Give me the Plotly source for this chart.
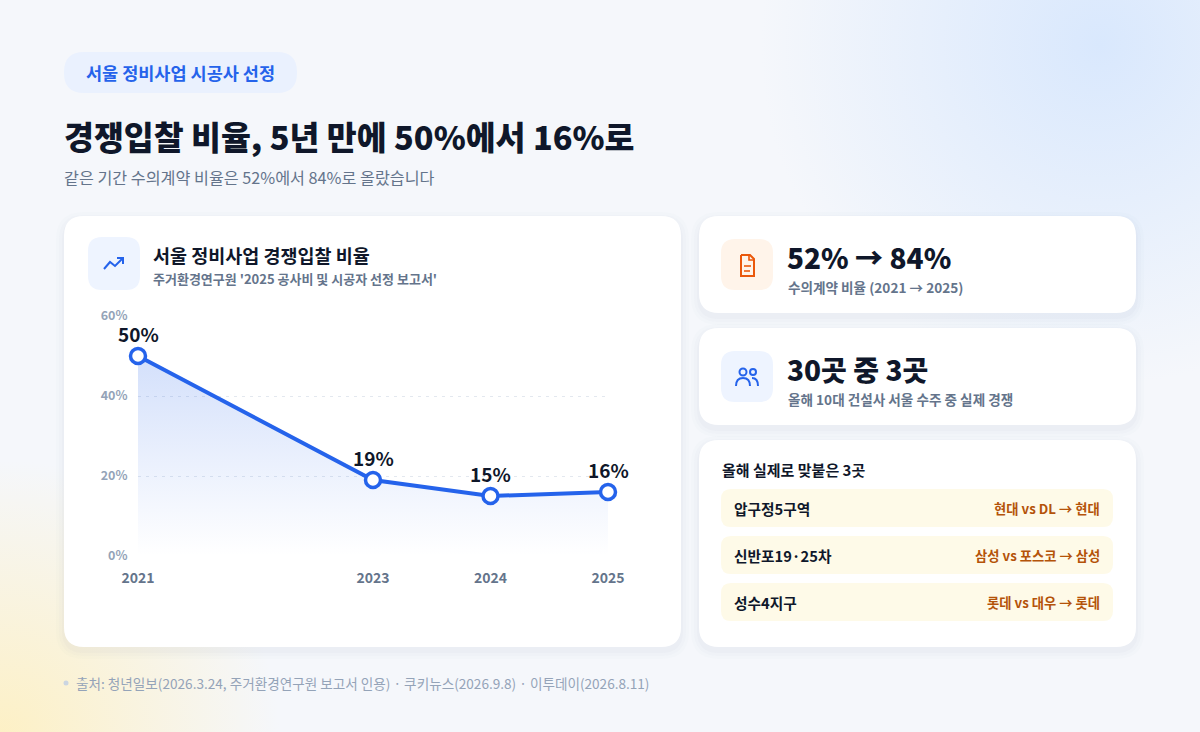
import base64

import plotly.graph_objects as go

W, H = 1200, 732
FONT = "Noto Sans CJK KR"

# data
years = [2021, 2023, 2024, 2025]
competitive_pct = [50, 19, 15, 16]
point_labels = ["50%", "19%", "15%", "16%"]
y_ticks = [0, 20, 40, 60]
y_tick_labels = ["0%", "20%", "40%", "60%"]

stat_values = ["52% → 84%", "30곳 중 3곳"]
stat_notes = ["수의계약 비율 (2021 → 2025)", "올해 10대 건설사 서울 수주 중 실제 경쟁"]
sites = ["압구정5구역", "신반포19·25차", "성수4지구"]
matchups = ["현대 vs DL → 현대", "삼성 vs 포스코 → 삼성", "롯데 vs 대우 → 롯데"]

BLUE = "#2563EB"
DARK = "#0F172A"
GRAY = "#64748B"
LIGHT = "#94A3B8"


def px(x):
    return x / W


def py(y):
    return 1 - y / H


def rrect(x0, y0, x1, y1, r):
    pts = [
        f"M {px(x0 + r)} {py(y0)}",
        f"L {px(x1 - r)} {py(y0)}",
        f"Q {px(x1)} {py(y0)} {px(x1)} {py(y0 + r)}",
        f"L {px(x1)} {py(y1 - r)}",
        f"Q {px(x1)} {py(y1)} {px(x1 - r)} {py(y1)}",
        f"L {px(x0 + r)} {py(y1)}",
        f"Q {px(x0)} {py(y1)} {px(x0)} {py(y1 - r)}",
        f"L {px(x0)} {py(y0 + r)}",
        f"Q {px(x0)} {py(y0)} {px(x0 + r)} {py(y0)}",
        "Z",
    ]
    return " ".join(pts)


def polyline(points):
    return " ".join(
        ("M" if i == 0 else "L") + f" {px(x)} {py(y)}" for i, (x, y) in enumerate(points)
    )


# soft background glows as an svg image (blue top right, yellow bottom left)
bg_svg = (
    f"<svg xmlns='http://www.w3.org/2000/svg' width='{W}' height='{H}'>"
    "<defs>"
    "<radialGradient id='b' cx='1100' cy='45' r='340' gradientUnits='userSpaceOnUse'>"
    "<stop offset='0' stop-color='#D9E8FD' stop-opacity='1'/>"
    "<stop offset='1' stop-color='#D9E8FD' stop-opacity='0'/></radialGradient>"
    "<radialGradient id='y' cx='0' cy='740' r='280' gradientUnits='userSpaceOnUse'>"
    "<stop offset='0' stop-color='#FDF0C4' stop-opacity='1'/>"
    "<stop offset='1' stop-color='#FDF0C4' stop-opacity='0'/></radialGradient>"
    "</defs>"
    f"<rect width='{W}' height='{H}' fill='url(#b)'/>"
    f"<rect width='{W}' height='{H}' fill='url(#y)'/>"
    "</svg>"
)
bg_src = "data:image/svg+xml;base64," + base64.b64encode(bg_svg.encode()).decode()

shapes = []


def add_box(x0, y0, x1, y1, r, fill):
    shapes.append(dict(type="path", path=rrect(x0, y0, x1, y1, r), xref="paper", yref="paper",
                       fillcolor=fill, line=dict(width=0), layer="below"))


def add_card(x0, y0, x1, y1, r=20):
    for k, a in [(8, 0.025), (5, 0.03), (2, 0.04)]:
        shapes.append(dict(type="path", path=rrect(x0 - k, y0 - k + 4, x1 + k, y1 + k + 4, r + k),
                           xref="paper", yref="paper", fillcolor="#94A3B8", opacity=a,
                           line=dict(width=0), layer="below"))
    add_box(x0, y0, x1, y1, r, "#FFFFFF")


def add_line(points, color, width=2):
    shapes.append(dict(type="path", path=polyline(points), xref="paper", yref="paper",
                       line=dict(color=color, width=width), layer="below"))


# header pill
add_box(64, 52, 297, 93, 20, "#EAF1FE")

# cards
add_card(64, 216, 681, 647)
add_card(699, 216, 1136, 313)
add_card(699, 328, 1136, 425)
add_card(699, 440, 1136, 647)

# icon boxes
add_box(88, 237, 140, 290, 14, "#EEF4FF")
add_box(721, 239, 773, 290, 14, "#FFF4EA")
add_box(721, 351, 773, 402, 14, "#EEF4FF")

# trend icon
add_line([(104, 269), (110, 262), (115, 266), (122, 259)], BLUE, 2)
add_line([(117, 258), (123, 258), (123, 264)], BLUE, 2)

# document icon
add_line([(741, 255), (750, 255), (754, 259), (754, 276), (741, 276), (741, 255)], "#EA580C", 2)
add_line([(749, 255), (749, 260), (754, 260)], "#EA580C", 1.6)
add_line([(744, 266), (751, 266)], "#EA580C", 1.6)
add_line([(744, 271), (750, 271)], "#EA580C", 1.6)

# users icon
shapes.append(dict(type="circle", xref="paper", yref="paper", x0=px(739.5), x1=px(746.5),
                   y0=py(375.5), y1=py(368.5), line=dict(color=BLUE, width=2), layer="below"))
shapes.append(dict(type="circle", xref="paper", yref="paper", x0=px(750), x1=px(756),
                   y0=py(375), y1=py(369), line=dict(color=BLUE, width=2), layer="below"))
shapes.append(dict(type="path", xref="paper", yref="paper", layer="below",
                   path=f"M {px(736)} {py(386)} Q {px(736)} {py(378)} {px(743)} {py(378)} "
                        f"Q {px(750)} {py(378)} {px(750)} {py(386)}",
                   line=dict(color=BLUE, width=2)))
shapes.append(dict(type="path", xref="paper", yref="paper", layer="below",
                   path=f"M {px(752)} {py(378)} Q {px(758)} {py(378)} {px(758)} {py(386)}",
                   line=dict(color=BLUE, width=2)))

# match rows
row_tops = [489, 536, 583]
for top in row_tops:
    add_box(721, top, 1113, top + 38, 10, "#FEFAE8")

# footer dot
shapes.append(dict(type="circle", xref="paper", yref="paper", x0=px(63.5), x1=px(68.5),
                   y0=py(685.5), y1=py(680.5), fillcolor="#CBD5E1", line=dict(width=0), layer="below"))

annotations = []


def text(x, y, s, size, color, weight=400, anchor="left"):
    annotations.append(dict(x=px(x), y=py(y), xref="paper", yref="paper", text=s, showarrow=False,
                            xanchor=anchor, yanchor="middle",
                            font=dict(family=FONT, size=size, color=color, weight=weight)))


text(180.5, 73, "서울 정비사업 시공사 선정", 17.5, BLUE, 700, "center")
text(62, 135, "경쟁입찰 비율, 5년 만에 50%에서 16%로", 32.5, DARK, 800)
text(62, 177, "같은 기간 수의계약 비율은 52%에서 84%로 올랐습니다", 16.2, GRAY, 400)

text(151, 255, "서울 정비사업 경쟁입찰 비율", 18.5, DARK, 700)
text(151, 278, "주거환경연구원 '2025 공사비 및 시공자 선정 보고서'", 13, GRAY, 600)

for i, (val, note) in enumerate(zip(stat_values, stat_notes)):
    cy = 257 + i * 112
    text(785, cy, val, 28, DARK, 800)
    text(786, cy + 30, note, 13.6, GRAY, 600)

text(720, 469, "올해 실제로 맞붙은 3곳", 15, DARK, 700)
for top, site, m in zip(row_tops, sites, matchups):
    text(732, top + 19, site, 14.7, DARK, 600)
    text(1102, top + 19, m, 13.3, "#B45309", 700, "right")

text(74, 683, "출처: 청년일보(2026.3.24, 주거환경연구원 보고서 인용) · 쿠키뉴스(2026.9.8) · 이투데이(2026.8.11)",
     13.6, LIGHT, 400)

# point labels, drawn from the data
for yr, v, lab in zip(years, competitive_pct, point_labels):
    annotations.append(dict(x=yr, y=v, xref="x", yref="y", text=lab, showarrow=False,
                            yshift=23, font=dict(family=FONT, size=19, color=DARK, weight=700)))

fig = go.Figure()
fig.add_trace(go.Scatter(
    x=years, y=competitive_pct, mode="lines+markers",
    line=dict(color=BLUE, width=4),
    marker=dict(size=15, color="#FFFFFF", line=dict(color=BLUE, width=3.5)),
    fill="tozeroy",
    fillgradient=dict(type="vertical", start=0, stop=50,
                      colorscale=[[0, "rgba(37,99,235,0.0)"], [1, "rgba(37,99,235,0.2)"]]),
    cliponaxis=False, hoverinfo="skip",
))

fig.update_layout(
    width=W, height=H, margin=dict(l=0, r=0, t=0, b=0, autoexpand=False),
    paper_bgcolor="#F5F7FB", plot_bgcolor="rgba(0,0,0,0)",
    showlegend=False, shapes=shapes, annotations=annotations,
    images=[dict(source=bg_src, xref="paper", yref="paper", x=0, y=1, sizex=1, sizey=1,
                 xanchor="left", yanchor="top", sizing="stretch", layer="below")],
    xaxis=dict(domain=[px(138), px(608)], range=[2021, 2025], tickvals=years,
               ticktext=[str(y) for y in years], showgrid=False, zeroline=False,
               showline=False, ticks="outside", ticklen=9, tickcolor="rgba(0,0,0,0)",
               automargin=False,
               tickfont=dict(family=FONT, size=14, color=GRAY, weight=700)),
    yaxis=dict(domain=[py(556), py(316)], range=[0, 60], tickvals=y_ticks,
               ticktext=y_tick_labels, showgrid=True, gridcolor="#E3E8EF",
               griddash="3px,5px", gridwidth=1, zeroline=False, showline=False,
               ticks="outside", ticklen=7, tickcolor="rgba(0,0,0,0)", automargin=False,
               tickfont=dict(family=FONT, size=12.5, color=LIGHT, weight=600)),
)

fig.write_html(
    "out.html",
    config={"displayModeBar": False},
    post_script="document.body.style.margin='0';document.body.style.overflow='hidden';",
)
